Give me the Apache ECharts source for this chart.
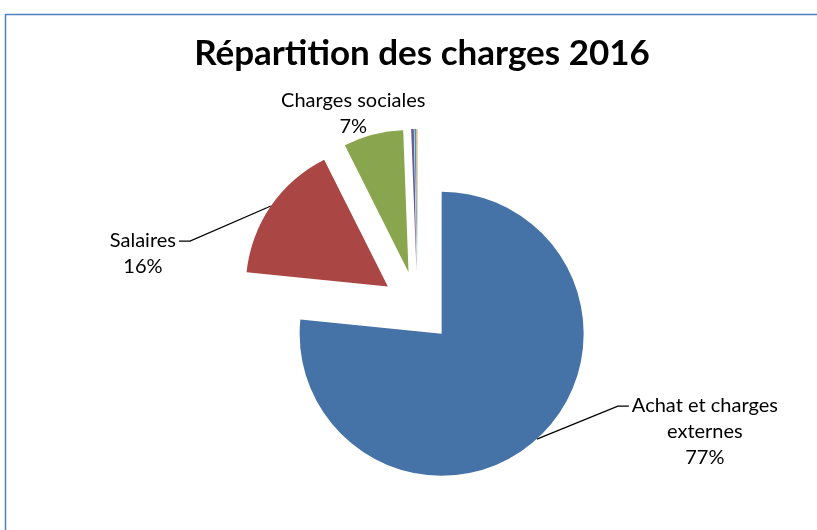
<!DOCTYPE html>
<html>
<head>
<meta charset="utf-8">
<script src="https://cdn.jsdelivr.net/npm/echarts@6/dist/echarts.min.js"></script>
<style>
  html, body { margin: 0; padding: 0; background: #fff; }
  #main { width: 817px; height: 530px; }
</style>
</head>
<body>
<div id="main"></div>
<script>
// données
var categories = ['Achat et charges externes', 'Salaires', 'Charges sociales', 'Autres 1', 'Autres 2', 'Autres 3'];
var values = [76.6, 16.0, 6.8, 0.3, 0.2, 0.1];
var showLabel = [true, true, true, false, false, false];
var colors = ['#4572A7', '#AA4643', '#89A54E', '#71588F', '#4198AF', '#DB843D'];
// position du texte par rapport au départ du trait de rappel
var labelShift = [[168, -7], [-128, 48], [-20, -21], [0, 0], [0, 0], [0, 0]];

var LABEL_FONT = '20px Lato';
var LINE_H = 26;
var ctx = document.createElement('canvas').getContext('2d');
ctx.font = LABEL_FONT;

// coupe le nom sur plusieurs lignes comme Excel
function wrap(txt, maxW) {
  var words = txt.split(' '), lines = [], cur = '';
  words.forEach(function (w) {
    var t = cur ? cur + ' ' + w : w;
    if (cur && ctx.measureText(t).width > maxW) { lines.push(cur); cur = w; }
    else cur = t;
  });
  lines.push(cur);
  return lines.join('\n');
}

var myChart = echarts.init(document.getElementById('main'));

var pieData = categories.map(function (name, i) {
  return {
    name: name,
    value: values[i],
    selected: true,
    label: { show: showLabel[i] },
    labelLine: { show: showLabel[i], lineStyle: { opacity: i === 2 ? 0 : 1 } }
  };
});

myChart.setOption({
  color: colors,
  title: {
    text: 'Répartition des charges 2016',
    left: 417,
    top: 31,
    textAlign: 'center',
    textStyle: { fontFamily: 'Lato', fontWeight: 'bold', fontSize: 35, color: '#000' }
  },
  graphic: [{
    type: 'rect',
    shape: { x: 5.5, y: 14.5, width: 900, height: 600 },
    style: { fill: null, stroke: '#4F81BD', lineWidth: 1.5 }
  }],
  series: [{
    type: 'pie',
    center: [417.5, 307],
    radius: 142,
    startAngle: 90,
    clockwise: true,
    selectedMode: 'multiple',
    selectedOffset: 36,
    percentPrecision: 0,
    animation: false,
    emphasis: { disabled: true },
    label: {
      show: true,
      position: 'outside',
      formatter: function (p) { return wrap(p.name, 160) + '\n' + p.percent + '%'; },
      fontFamily: 'Lato',
      fontSize: 20,
      color: '#000',
      lineHeight: LINE_H
    },
    labelLine: {
      show: true,
      length: 20,
      length2: 10,
      lineStyle: { color: '#000', width: 1.3 }
    },
    labelLayout: function (p) {
      var i = p.dataIndex;
      if (!showLabel[i] || !p.labelLinePoints) return {};
      var start = p.labelLinePoints[0];
      var r = p.labelRect;
      var cx = start[0] + labelShift[i][0];
      var cy = start[1] + labelShift[i][1];
      // point d'ancrage d'origine du texte
      var ax = p.align === 'right' ? r.x + r.width : (p.align === 'center' ? r.x + r.width / 2 : r.x);
      var ay = r.y + r.height / 2;
      var first = p.text.split('\n')[0];
      var w1 = ctx.measureText(first).width;
      var y1 = cy - r.height / 2 + LINE_H / 2;
      var end, mid;
      if (start[0] < cx) { end = [cx - w1 / 2 - 3, y1]; mid = [end[0] - 11, y1]; }
      else { end = [cx + w1 / 2 + 3, y1]; mid = [end[0] + 11, y1]; }
      return {
        dx: cx - ax, dy: cy - ay, align: 'center', verticalAlign: 'middle',
        labelLinePoints: [start, mid, end]
      };
    },
    data: pieData
  }]
});
</script>
</body>
</html>
